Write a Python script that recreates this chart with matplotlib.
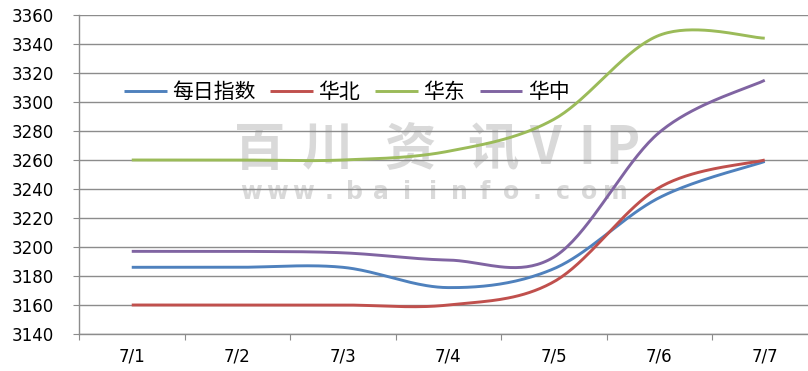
import numpy as np
import matplotlib
matplotlib.use("Agg")
import matplotlib.pyplot as plt

dates = ["7/1", "7/2", "7/3", "7/4", "7/5", "7/6", "7/7"]
daily_index = [3186, 3186, 3186, 3172, 3185, 3234, 3259]
north = [3160, 3160, 3160, 3160, 3176, 3241, 3260]
east = [3260, 3260, 3260, 3266, 3288, 3346, 3344]
central = [3197, 3197, 3196, 3191, 3193, 3279, 3315]
series_names = ["每日指数", "华北", "华东", "华中"]
colors = ["#4F81BD", "#C0504D", "#9BBB59", "#8064A2"]

W, H = 808, 371
GRID = "#8C8C8C"


def smooth(ys, n=40):
    # excel-style smoothed line: catmull-rom turned into cubic beziers
    p = np.array(ys, dtype=float)
    x = np.arange(len(p), dtype=float)
    px = np.concatenate([[x[0]], x, [x[-1]]])
    py = np.concatenate([[p[0]], p, [p[-1]]])
    out_x, out_y = [], []
    t = np.linspace(0, 1, n)
    for i in range(1, len(px) - 2):
        x0, x3 = px[i], px[i + 1]
        y0, y3 = py[i], py[i + 1]
        x1 = x0 + (px[i + 1] - px[i - 1]) / 6
        y1 = y0 + (py[i + 1] - py[i - 1]) / 6
        x2 = x3 - (px[i + 2] - px[i]) / 6
        y2 = y3 - (py[i + 2] - py[i]) / 6
        bx = (1-t)**3*x0 + 3*(1-t)**2*t*x1 + 3*(1-t)*t**2*x2 + t**3*x3
        by = (1-t)**3*y0 + 3*(1-t)**2*t*y1 + 3*(1-t)*t**2*y2 + t**3*y3
        out_x.extend(bx)
        out_y.extend(by)
    return out_x, out_y


fig = plt.figure(figsize=(W / 100, H / 100), dpi=100)
left, right, top, bottom = 79, 817.5, 15, 334
ax = fig.add_axes([left / W, 1 - bottom / H, (right - left) / W, (bottom - top) / H])

# watermark
wm_font = ["Noto Sans CJK SC", "DejaVu Sans"]
for ch, cx in zip("百川资讯VIP", [260, 328, 410, 493, 545, 587, 622]):
    ax.text(cx / W, 1 - 149 / H, ch, transform=fig.transFigure, ha="center", va="center",
            fontsize=37, fontweight="bold", color="#D9D9D9", family=wm_font, zorder=0.2)
for i, ch in enumerate("www.baiinfo.com"):
    ax.text((251 + 26 * i) / W, 1 - 192 / H, ch, transform=fig.transFigure, ha="center",
            va="center", fontsize=17, fontweight="bold", color="#D9D9D9",
            family="DejaVu Sans", zorder=0.2)

for name, ys, c in zip(series_names, [daily_index, north, east, central], colors):
    sx, sy = smooth(ys)
    ax.plot(sx, sy, color=c, lw=2.1, label=name, zorder=3, solid_capstyle="butt")

ax.set_xlim(-0.5, 6.5)
ax.set_ylim(3140, 3360)
ax.set_yticks(np.arange(3140, 3361, 20))
ax.set_xticks(np.arange(-0.5, 7.0, 1.0))
ax.set_xticklabels([])
ax.set_xticks(range(len(dates)), minor=True)
ax.set_xticklabels(dates, minor=True)
ax.tick_params(axis="x", which="major", length=4.3, color=GRID, direction="out")
ax.tick_params(axis="x", which="minor", length=0, pad=10, labelsize=12)
ax.tick_params(axis="y", length=4.3, color=GRID, pad=14, labelsize=12)
ax.grid(axis="y", color=GRID, lw=1.0)
ax.set_axisbelow(True)
for s in ["top", "right"]:
    ax.spines[s].set_visible(False)
for s in ["left", "bottom"]:
    ax.spines[s].set_color(GRID)
    ax.spines[s].set_linewidth(1.0)

leg = ax.legend(loc="center left", bbox_to_anchor=(124 / W, 1 - 92 / H),
                bbox_transform=fig.transFigure, ncol=4, frameon=False,
                prop={"family": ["Noto Sans CJK SC", "DejaVu Sans"], "size": 15},
                handlelength=2.05, handletextpad=0.25, columnspacing=0.72,
                borderpad=0, borderaxespad=0)

fig.savefig("out.png", dpi=100, facecolor="white")
